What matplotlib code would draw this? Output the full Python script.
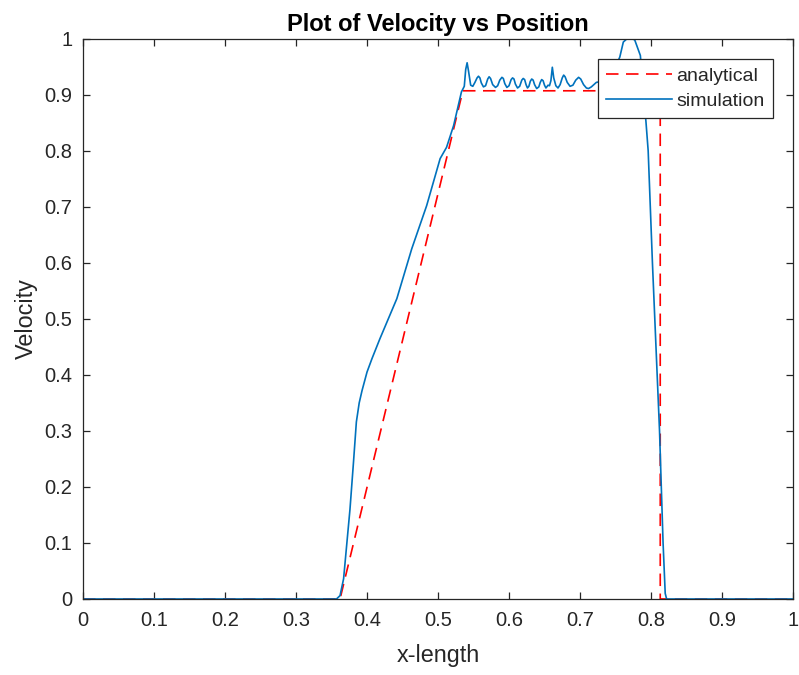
import matplotlib
matplotlib.use("Agg")
import matplotlib.pyplot as plt

plt.rcParams['font.family'] = ['Liberation Sans', 'DejaVu Sans']

# Analytical solution
x_analytical = [0.0, 0.362, 0.535, 0.813, 0.813, 1.0]
v_analytical = [0.0, 0.0, 0.907, 0.907, 0.0, 0.0]

# Simulation
x_simulation = [0.0, 0.357, 0.362, 0.367, 0.372, 0.376, 0.381, 0.385, 0.389, 0.393,
                0.400, 0.407, 0.418, 0.442, 0.463, 0.484, 0.503, 0.512, 0.522, 0.533,
                0.537, 0.539, 0.541, 0.543, 0.546, 0.549, 0.552, 0.555, 0.557, 0.559,
                0.561, 0.564, 0.567, 0.570, 0.572, 0.574, 0.577, 0.581, 0.584, 0.587,
                0.590, 0.592, 0.594, 0.597, 0.600, 0.603, 0.605, 0.607, 0.609, 0.612,
                0.615, 0.618, 0.620, 0.622, 0.624, 0.626, 0.628, 0.630, 0.632, 0.634,
                0.636, 0.639, 0.642, 0.644, 0.646, 0.648, 0.650, 0.652, 0.655, 0.657,
                0.659, 0.661, 0.663, 0.666, 0.669, 0.672, 0.675, 0.677, 0.679, 0.682,
                0.686, 0.690, 0.694, 0.698, 0.701, 0.705, 0.709, 0.712, 0.716, 0.723,
                0.735, 0.748, 0.756, 0.761, 0.768, 0.777, 0.785, 0.789, 0.793, 0.796,
                0.802, 0.807, 0.812, 0.817, 0.820, 0.822, 1.0]
v_simulation = [0.0, 0.0, 0.006, 0.036, 0.105, 0.160, 0.245, 0.316, 0.350, 0.372,
                0.405, 0.429, 0.464, 0.536, 0.625, 0.702, 0.786, 0.806, 0.845, 0.905,
                0.915, 0.945, 0.957, 0.942, 0.917, 0.915, 0.922, 0.930, 0.933, 0.930,
                0.921, 0.914, 0.916, 0.928, 0.932, 0.929, 0.918, 0.913, 0.916, 0.926,
                0.931, 0.929, 0.920, 0.913, 0.916, 0.927, 0.930, 0.928, 0.919, 0.912,
                0.915, 0.926, 0.929, 0.927, 0.918, 0.912, 0.915, 0.924, 0.928, 0.926,
                0.918, 0.911, 0.914, 0.922, 0.927, 0.925, 0.917, 0.912, 0.917, 0.916,
                0.925, 0.949, 0.930, 0.916, 0.912, 0.918, 0.930, 0.935, 0.932, 0.922,
                0.915, 0.917, 0.926, 0.931, 0.928, 0.918, 0.912, 0.911, 0.914, 0.922,
                0.925, 0.945, 0.967, 0.994, 1.002, 0.998, 0.970, 0.910, 0.850, 0.800,
                0.600, 0.450, 0.300, 0.100, 0.010, 0.0, 0.0]

x_ticks = [0, 0.1, 0.2, 0.3, 0.4, 0.5, 0.6, 0.7, 0.8, 0.9, 1]
y_ticks = [0, 0.1, 0.2, 0.3, 0.4, 0.5, 0.6, 0.7, 0.8, 0.9, 1]
tick_labels = ['0', '0.1', '0.2', '0.3', '0.4', '0.5', '0.6', '0.7', '0.8', '0.9', '1']

fig = plt.figure(figsize=(7.99, 6.75), dpi=100)
ax = fig.add_axes([0.1039, 0.1126, 0.8886, 0.8301])

ax.plot(x_analytical, v_analytical, color='#FF0000', linestyle=(0, (7.5, 4.5)), linewidth=1.2,
        label='analytical')
ax.plot(x_simulation, v_simulation, color='#0072BD', linewidth=1.2, label='simulation')

ax.set_xlim(0, 1)
ax.set_ylim(0, 1)
ax.set_xticks(x_ticks)
ax.set_xticklabels(tick_labels)
ax.set_yticks(y_ticks)
ax.set_yticklabels(tick_labels)

edge = '#262626'
for s in ax.spines.values():
    s.set_color(edge)
    s.set_linewidth(0.9)
ax.tick_params(direction='in', length=5, width=0.9, color=edge, top=True, right=True,
               labelsize=14.5, labelcolor=edge)
ax.tick_params(axis='x', pad=9)
ax.tick_params(axis='y', pad=7.5)

ax.set_title('Plot of Velocity vs Position', fontsize=17, fontweight='bold', color='black', pad=5.5)
ax.set_xlabel('x-length', fontsize=16.8, color=edge, labelpad=10)
ax.set_ylabel('Velocity', fontsize=16.8, color=edge, labelpad=5)

leg = ax.legend(loc='upper right', bbox_to_anchor=(0.9714, 0.963), borderaxespad=0,
                fontsize=14, handlelength=3.4, handletextpad=0.2, labelspacing=0.35,
                fancybox=False, framealpha=1, edgecolor=edge, borderpad=0.42)
leg.get_frame().set_linewidth(0.9)
for t in leg.get_texts():
    t.set_color(edge)

fig.savefig('out.png', dpi=100)
